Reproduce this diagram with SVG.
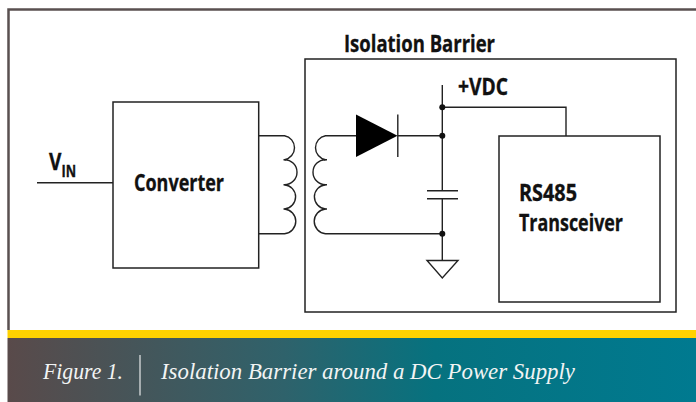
<svg xmlns="http://www.w3.org/2000/svg" width="696" height="402" viewBox="0 0 696 402">
<defs>
<linearGradient id="band" x1="0" y1="0" x2="1" y2="0">
<stop offset="0" stop-color="#594a4a"/><stop offset="0.4" stop-color="#2f626b"/><stop offset="0.62" stop-color="#06727f"/><stop offset="1" stop-color="#007a90"/>
</linearGradient>
<style>
.box{fill:none;stroke:#222;stroke-width:1.5}
.w{fill:none;stroke:#222;stroke-width:1.4}
.lbl{font-family:"Open Sans","Liberation Sans",sans-serif;font-weight:700;fill:#111;font-size:24px;stroke:#111;stroke-width:.35}
.cap{font-family:"Liberation Serif",serif;font-style:italic;fill:#f2f4f4;font-size:23px}
.dot{fill:#111}
</style>
</defs>
<rect width="696" height="402" fill="#fff"/>
<g id="frame">
<path d="M696 9.500H8.500V330" fill="none" stroke="#595050" stroke-width="2.500"/>
<rect x="7.500" y="330" width="688.500" height="8" fill="#ffd200"/>
<rect x="7.500" y="338" width="688.500" height="64" fill="url(#band)"/>
<line x1="140" y1="355" x2="140" y2="395.500" stroke="#e8eaea" stroke-width="1.200"/>
<text class="cap" x="43" y="379" textLength="80" lengthAdjust="spacingAndGlyphs">Figure 1.</text>
<text class="cap" x="161" y="379" textLength="414" lengthAdjust="spacingAndGlyphs">Isolation Barrier around a DC Power Supply</text>
</g>
<g id="connectors">
<path class="w" d="M37 182.700H113"/>
<path class="w" d="M258.700 135.700H284.500A12.200 12.200 0 0 1 284.500 159.700A12.500 12.500 0 0 1 284.500 184.700A12.200 12.200 0 0 1 284.500 209A12.400 12.400 0 0 1 284.500 233.700H258.700"/>
<path class="w" d="M283.500 159.700H286M283.500 184.700H286M283.500 209H286"/>
<path class="w" d="M356 135.700H325.500A12.200 12.200 0 0 0 325.500 159.700A12.500 12.500 0 0 0 325.500 184.700A12.200 12.200 0 0 0 325.500 209A12.400 12.400 0 0 0 325.500 233.700H442.300"/>
<path class="w" d="M324 159.700H327M324 184.700H327M324 209H327"/>
<path class="w" d="M397.500 135.700H442.300M442.300 85V190.700M442.300 198.700V260.500M442.300 107.300H566V136"/>
<path class="w" d="M427 190.700H458M427 198.700H458"/>
<circle class="dot" cx="442.300" cy="107.300" r="3"/>
<circle class="dot" cx="442.300" cy="135.700" r="3"/>
<circle class="dot" cx="442.300" cy="233.700" r="3"/>
</g>
<g id="converter">
<rect class="box" x="113" y="102" width="145.700" height="166"/>
<text class="lbl" x="134" y="191" textLength="90" lengthAdjust="spacingAndGlyphs">Converter</text>
</g>
<g id="vin">
<text class="lbl" x="49" y="170" textLength="27" lengthAdjust="spacingAndGlyphs">V<tspan dy="7" style="font-size:16px">IN</tspan></text>
</g>
<g id="isolation-barrier">
<rect class="box" x="305" y="59" width="371" height="253"/>
<text class="lbl" x="344" y="52" textLength="151" lengthAdjust="spacingAndGlyphs">Isolation Barrier</text>
</g>
<g id="diode">
<path d="M356 114.500V157L397.500 135.700Z" fill="#000"/>
<path class="w" d="M397.800 114.500V157"/>
</g>
<g id="ground"><path class="w" d="M427 260.500H458L442.300 278Z"/></g>
<g id="vdc"><text class="lbl" x="458" y="95" textLength="50" lengthAdjust="spacingAndGlyphs">+VDC</text></g>
<g id="transceiver">
<rect class="box" x="499" y="136" width="161" height="166"/>
<text class="lbl" x="519" y="201" textLength="58" lengthAdjust="spacingAndGlyphs">RS485</text>
<text class="lbl" x="519" y="231" textLength="104" lengthAdjust="spacingAndGlyphs">Transceiver</text>
</g>
</svg>
